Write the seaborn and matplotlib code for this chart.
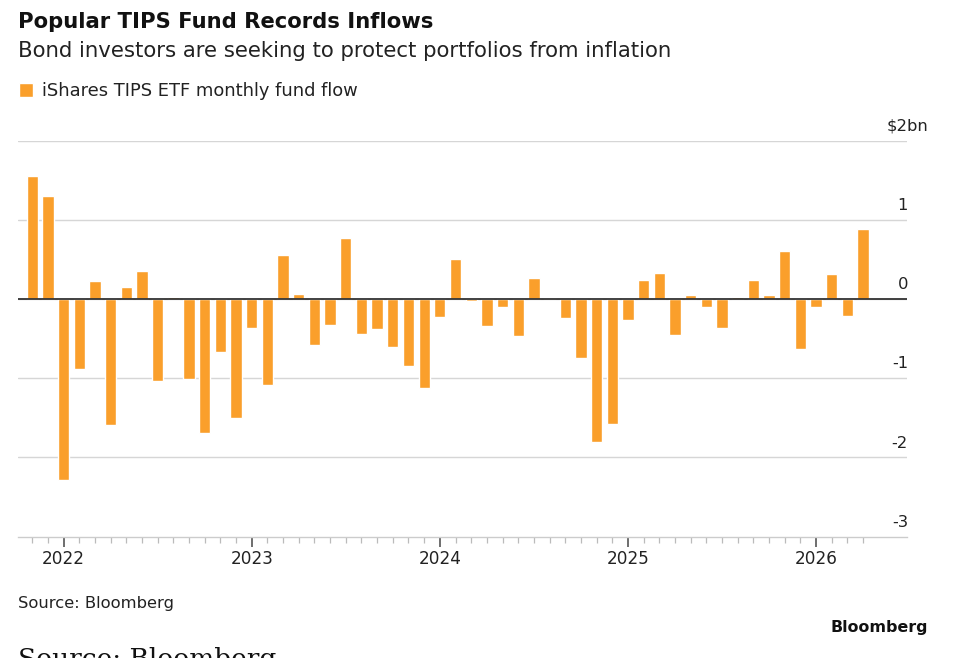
import numpy as np
import pandas as pd
import matplotlib
matplotlib.use("Agg")
import matplotlib.pyplot as plt
import seaborn as sns

# monthly flows, $bn (Nov 2021 - Apr 2026)
months = pd.date_range("2021-11-01", periods=54, freq="MS")
flows = [1.55, 1.30, -2.28, -0.89, 0.23, -1.59, 0.155, 0.35, -1.04, 0.025,
         -1.01, -1.69, -0.67, -1.50, -0.37, -1.09, 0.56, 0.06, -0.58, -0.33,
         0.77, -0.445, -0.38, -0.605, -0.845, -1.13, -0.23, 0.50, -0.03, -0.335,
         -0.105, -0.466, 0.27, 0.01, -0.235, -0.74, -1.81, -1.58, -0.27, 0.24,
         0.33, -0.45, 0.05, -0.097, -0.36, 0.02, 0.24, 0.055, 0.61, -0.63,
         -0.10, 0.31, -0.22, 0.88]
y_ticks = [-3, -2, -1, 0, 1, 2]
y_labels = ["-3", "-2", "-1", "0", "1", "$2bn"]

title = "Popular TIPS Fund Records Inflows"
subtitle = "Bond investors are seeking to protect portfolios from inflation"
series_name = "iShares TIPS ETF monthly fund flow"

df = pd.DataFrame({"month": months, "flow": flows})
df["pos"] = np.arange(len(df))

sns.set_theme(style="white")
plt.rcParams["font.family"] = ["DejaVu Sans"]

fig = plt.figure(figsize=(9.54, 6.58), dpi=100)
ax = fig.add_axes([18.3 / 954, 1 - 536.5 / 658, (907 - 18.3) / 954, (536.5 - 140.7) / 658])

sns.barplot(data=df, x="pos", y="flow", color="#FA9F2B", saturation=1,
            width=0.72, native_scale=True, label=series_name, ax=ax, zorder=2)

ax.set_xlim(-0.89, 55.8)
ax.set_ylim(-3, 2)

# gridlines + zero line
for v in y_ticks[1:]:
    ax.axhline(v, color="#d6d6d6", lw=1, zorder=1)
ax.axhline(0, color="#333333", lw=1.3, zorder=3)

# y labels on the right, sitting above the lines ("bn" hangs past the numbers)
ax.set_yticks([])
for v, lab in zip(y_ticks, y_labels):
    dx = 14.5 if lab.endswith("bn") else 0
    ax.annotate(lab, xy=(1.001, v), xycoords=("axes fraction", "data"),
                xytext=(dx, 7), textcoords="offset points",
                ha="right", va="baseline", fontsize=11.8, color="#222222")

# x axis: a minor tick per month, major tick + label each January
year_pos = df.loc[df["month"].dt.month == 1, "pos"].tolist()
year_lab = df.loc[df["month"].dt.month == 1, "month"].dt.year.astype(str).tolist()
ax.set_xticks(year_pos)
ax.set_xticklabels(year_lab, fontsize=12.2, color="#222222")
ax.set_xticks(df["pos"], minor=True)
ax.tick_params(axis="x", which="major", bottom=True, length=7, width=1.2,
               color="#555555", pad=3)
ax.tick_params(axis="x", which="minor", bottom=True, length=4, width=0.9,
               color="#bbbbbb")
ax.set_xlabel("")
ax.set_ylabel("")

for s in ["top", "left", "right"]:
    ax.spines[s].set_visible(False)
ax.spines["bottom"].set_color("#cccccc")
ax.spines["bottom"].set_linewidth(1)

ax.legend(loc="upper left", bbox_to_anchor=(19 / 954, 1 - 82 / 658),
          bbox_transform=fig.transFigure, frameon=False, fontsize=12.9,
          handlelength=0.8, handleheight=0.8, handletextpad=0.5,
          borderpad=0, borderaxespad=0, labelcolor="#222222")

fig.text(18 / 954, 1 - 28.5 / 658, title, fontsize=15.2, fontweight="bold",
         color="#111111", va="baseline")
fig.text(18 / 954, 1 - 56.7 / 658, subtitle, fontsize=15.3, color="#222222",
         va="baseline")
fig.text(18 / 954, 1 - 608 / 658, "Source: Bloomberg", fontsize=11.8,
         color="#222222", va="baseline")
fig.text(928 / 954, 1 - 632 / 658, "Bloomberg", fontsize=11.4,
         fontweight="bold", color="#111111", ha="right", va="baseline")
fig.text(18 / 954, 1 - 667 / 658, "Source: Bloomberg", fontsize=19,
         family="DejaVu Serif", color="#111111", va="baseline")

fig.savefig("out.png", dpi=100, facecolor="white")
